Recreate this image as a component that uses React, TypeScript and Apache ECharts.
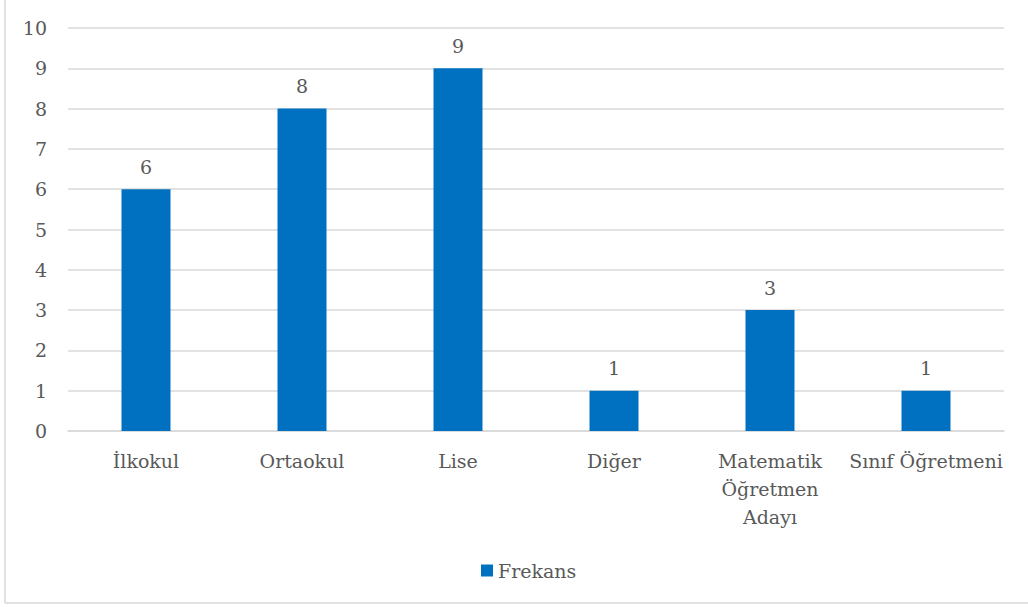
import React, { useEffect, useRef } from "react";
import * as echarts from "echarts";

// Frequency of respondents by school level / group
const categories = [
  "İlkokul",
  "Ortaokul",
  "Lise",
  "Diğer",
  "Matematik\nÖğretmen\nAdayı",
  "Sınıf Öğretmeni",
];
const frekans = [6, 8, 9, 1, 3, 1];
const seriesName = "Frekans";

const FONT = "DejaVu Serif";
const FS = 19;
const TEXT = "#595959";
const BAR = "#0070C0";
const GRID = "#D9D9D9";

export default function App() {
  const ref = useRef<HTMLDivElement>(null);

  useEffect(() => {
    document.body.style.margin = "0";
    if (!ref.current) return;
    const chart = echarts.init(ref.current, null, { renderer: "svg" });
    chart.setOption({
      animation: false,
      backgroundColor: "#ffffff",
      textStyle: { fontFamily: FONT, color: TEXT },
      grid: { left: 68, right: 24, top: 28, bottom: 176, containLabel: false },
      legend: {
        data: [seriesName],
        left: 476,
        top: 556,
        icon: "rect",
        itemWidth: 12,
        itemHeight: 12,
        itemGap: 5,
        textStyle: { fontFamily: FONT, fontSize: FS, color: TEXT },
      },
      xAxis: {
        type: "category",
        data: categories,
        axisTick: { show: false },
        axisLine: { lineStyle: { color: GRID, width: 1.5 } },
        axisLabel: {
          interval: 0,
          margin: 16,
          fontFamily: FONT,
          fontSize: FS,
          lineHeight: 28,
          color: TEXT,
        },
      },
      yAxis: {
        type: "value",
        min: 0,
        max: 10,
        interval: 1,
        axisLine: { show: false },
        axisTick: { show: false },
        splitLine: { lineStyle: { color: GRID, width: 1.5 } },
        axisLabel: { margin: 21, fontFamily: FONT, fontSize: FS, color: TEXT },
      },
      graphic: [
        {
          type: "line",
          shape: { x1: 5, y1: 0, x2: 5, y2: 603 },
          style: { stroke: GRID, lineWidth: 1.5 },
          silent: true,
        },
        {
          type: "line",
          shape: { x1: 5, y1: 603, x2: 1028, y2: 603 },
          style: { stroke: GRID, lineWidth: 1.5 },
          silent: true,
        },
      ],
      series: [
        {
          name: seriesName,
          type: "bar",
          data: frekans,
          barWidth: 49,
          itemStyle: { color: BAR },
          label: {
            show: true,
            position: "top",
            distance: 13,
            fontFamily: FONT,
            fontSize: FS,
            color: TEXT,
          },
        },
      ],
    });
    return () => chart.dispose();
  }, []);

  return <div ref={ref} style={{ width: 1028, height: 607 }} />;
}
